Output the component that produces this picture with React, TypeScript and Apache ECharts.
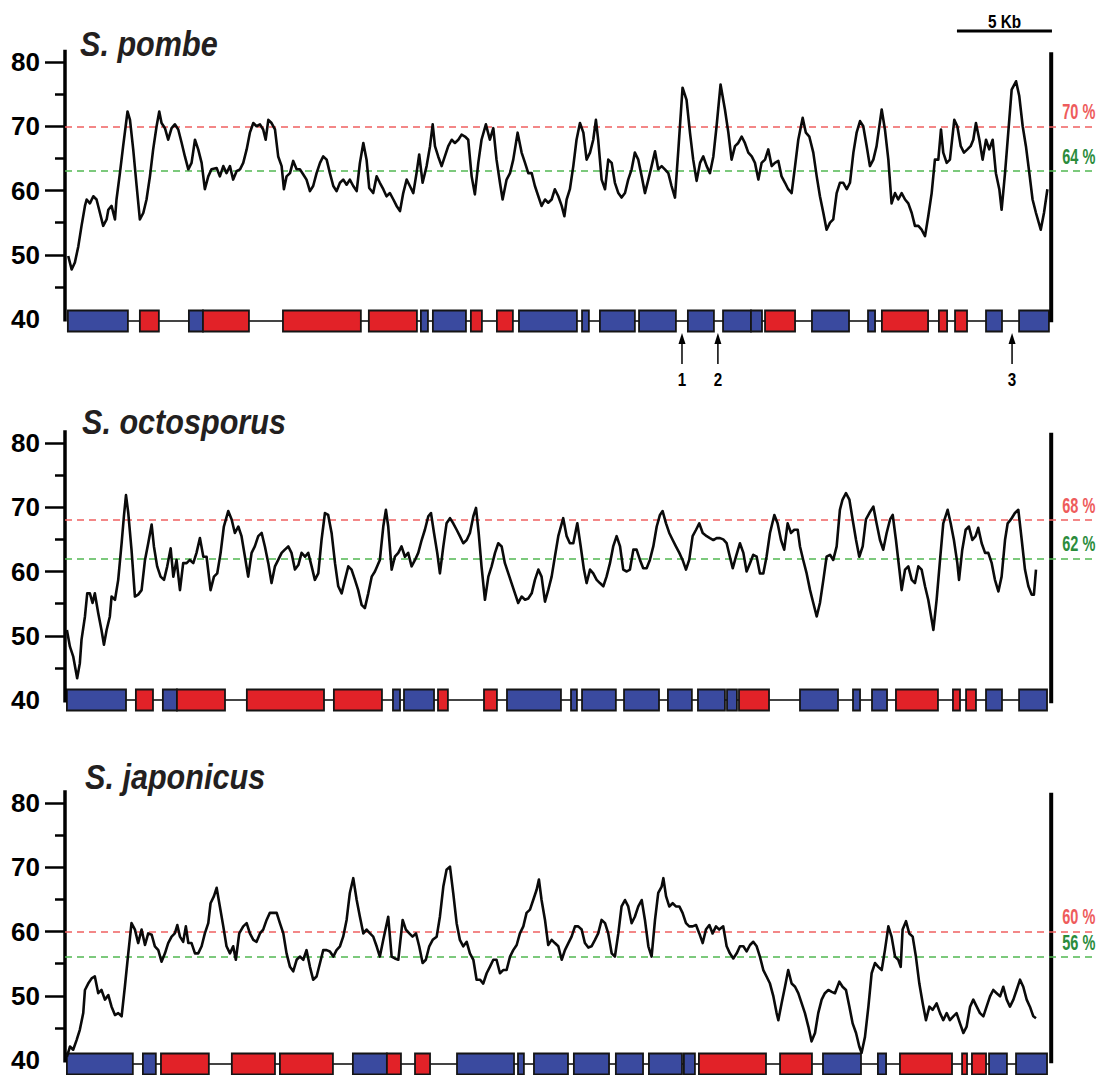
import React, { useEffect, useRef } from 'react';
import * as echarts from 'echarts';

// GC content (%) along the locus: [position in kb, GC %]
const pombeGC: number[][] = [
[0.07,49.8],[0.25,47.7],[0.42,48.8],[0.60,51.3],[0.77,54.5],[0.95,57.6],[1.04,58.6],[1.21,58.0],[1.39,59.1],[1.56,58.6],[1.74,56.5],[1.91,54.5],[2.09,55.5],[2.18,57.0],[2.35,57.6],[2.53,55.5],[2.61,58.6],[2.79,62.7],[2.96,66.9],[3.19,72.3],[3.32,71.0],[3.49,66.4],[3.67,60.7],[3.84,55.5],[4.02,56.5],[4.19,58.6],[4.37,62.2],[4.54,66.4],[4.72,70.0],[4.86,72.3],[4.98,70.5],[5.16,69.7],[5.33,67.9],[5.51,69.7],[5.68,70.3],[5.86,69.5],[6.04,67.4],[6.21,65.3],[6.39,63.3],[6.56,64.3],[6.74,67.9],[6.91,66.4],[7.09,64.3],[7.26,60.2],[7.44,62.2],[7.61,63.3],[7.88,63.5],[8.05,62.2],[8.23,63.8],[8.40,62.7],[8.58,63.8],[8.75,61.7],[8.93,63.0],[9.11,63.3],[9.28,64.3],[9.46,66.4],[9.63,69.0],[9.81,70.5],[9.98,70.0],[10.16,70.3],[10.33,69.5],[10.46,67.9],[10.60,71.0],[10.77,70.5],[10.95,69.5],[11.12,65.3],[11.30,63.8],[11.42,60.2],[11.56,62.2],[11.74,62.7],[11.91,64.6],[12.09,63.3],[12.26,63.3],[12.44,62.5],[12.61,61.7],[12.79,59.9],[12.96,60.7],[13.14,62.7],[13.32,64.3],[13.49,65.3],[13.67,64.8],[13.84,62.7],[14.02,60.7],[14.19,59.9],[14.37,61.2],[14.54,61.7],[14.72,60.9],[14.89,61.7],[15.07,60.7],[15.25,59.9],[15.42,64.3],[15.60,67.4],[15.77,64.8],[15.91,60.4],[16.12,59.6],[16.30,62.2],[16.47,61.2],[16.65,60.2],[16.82,59.1],[17.00,59.6],[17.18,58.6],[17.35,57.6],[17.53,56.8],[17.70,59.6],[17.88,61.7],[18.05,60.7],[18.23,59.6],[18.40,62.7],[18.54,65.6],[18.72,61.2],[18.93,63.8],[19.11,66.9],[19.25,70.3],[19.37,66.9],[19.54,65.3],[19.72,63.8],[19.89,65.3],[20.07,66.9],[20.25,67.9],[20.42,67.4],[20.60,67.9],[20.77,68.7],[20.95,68.4],[21.12,67.9],[21.30,62.2],[21.47,59.4],[21.65,64.3],[21.82,67.9],[22.05,70.3],[22.26,67.9],[22.44,69.7],[22.61,64.8],[22.79,61.2],[22.93,58.6],[23.14,61.7],[23.32,62.7],[23.49,64.8],[23.72,69.0],[23.93,65.9],[24.11,64.3],[24.28,62.7],[24.46,62.7],[24.63,60.7],[24.81,59.1],[24.98,57.6],[25.16,58.6],[25.33,58.1],[25.51,58.6],[25.68,60.2],[25.86,59.1],[26.04,57.6],[26.18,56.0],[26.30,58.6],[26.47,60.2],[26.65,63.8],[26.82,67.9],[27.00,70.5],[27.18,69.0],[27.35,64.8],[27.53,65.9],[27.70,67.9],[27.84,71.0],[27.96,67.9],[28.14,61.7],[28.32,60.2],[28.49,64.8],[28.67,64.3],[28.84,61.2],[29.02,59.6],[29.19,58.9],[29.37,59.6],[29.54,61.7],[29.72,63.3],[29.89,65.9],[30.07,64.8],[30.25,62.2],[30.42,59.6],[30.60,61.7],[30.77,63.8],[30.95,66.1],[31.12,63.3],[31.30,63.8],[31.47,63.3],[31.65,62.7],[31.82,60.7],[32.00,58.9],[32.18,66.4],[32.40,76.0],[32.61,74.1],[32.79,69.0],[32.96,64.8],[33.14,61.5],[33.32,64.3],[33.49,65.3],[33.67,63.8],[33.84,62.7],[34.02,65.3],[34.19,70.0],[34.40,76.5],[34.63,72.6],[34.81,69.0],[34.98,64.8],[35.16,66.9],[35.33,67.4],[35.51,68.4],[35.68,67.4],[35.86,65.9],[36.04,65.3],[36.21,64.3],[36.39,61.7],[36.56,64.3],[36.74,64.8],[36.91,66.4],[37.09,63.8],[37.26,64.3],[37.44,64.6],[37.61,62.2],[37.79,61.2],[37.96,60.2],[38.14,59.6],[38.32,63.8],[38.49,67.9],[38.72,71.3],[38.89,69.0],[39.07,68.4],[39.28,65.9],[39.46,62.2],[39.63,59.1],[39.81,56.5],[39.98,53.9],[40.16,55.0],[40.33,55.5],[40.51,59.6],[40.68,61.2],[40.86,61.2],[41.04,60.2],[41.21,61.2],[41.39,65.9],[41.56,69.0],[41.74,70.8],[41.91,70.0],[42.09,66.9],[42.26,63.8],[42.44,64.8],[42.61,66.9],[42.88,72.6],[43.05,69.5],[43.23,64.8],[43.40,58.0],[43.58,59.6],[43.75,58.6],[43.93,59.6],[44.11,58.6],[44.28,58.0],[44.46,56.5],[44.63,54.5],[44.81,54.5],[44.98,53.9],[45.16,52.9],[45.33,56.0],[45.51,59.6],[45.68,64.8],[45.86,64.8],[46.00,69.5],[46.12,65.9],[46.30,64.3],[46.47,64.8],[46.70,71.0],[46.86,70.0],[47.04,66.9],[47.21,65.9],[47.39,66.4],[47.56,66.9],[47.70,67.9],[47.84,70.5],[48.02,67.9],[48.19,64.8],[48.37,67.9],[48.54,66.4],[48.72,67.9],[48.89,62.7],[49.07,60.2],[49.19,57.0],[49.37,62.7],[49.54,69.0],[49.72,75.7],[49.95,77.0],[50.12,74.7],[50.30,70.0],[50.47,66.9],[50.65,62.7],[50.82,58.6],[51.00,56.5],[51.25,53.9],[51.42,56.5],[51.60,60.2]
];

const octosporusGC: number[][] = [
[0.00,50.9],[0.16,48.3],[0.33,46.8],[0.54,43.4],[0.68,45.7],[0.77,49.4],[0.95,53.0],[1.07,56.6],[1.21,56.6],[1.35,55.1],[1.47,56.6],[1.65,53.5],[1.82,50.9],[1.95,48.6],[2.09,50.9],[2.26,53.0],[2.35,56.1],[2.53,55.6],[2.70,58.7],[2.88,64.4],[3.00,68.6],[3.11,71.9],[3.23,69.1],[3.40,63.4],[3.58,56.1],[3.75,56.4],[3.93,57.1],[4.11,61.8],[4.28,64.4],[4.46,67.3],[4.58,63.9],[4.75,60.8],[4.93,59.2],[5.11,58.7],[5.28,60.8],[5.46,63.6],[5.60,59.2],[5.77,61.8],[5.95,57.1],[6.12,61.3],[6.30,61.3],[6.47,61.8],[6.65,61.3],[6.82,62.9],[7.00,65.2],[7.18,62.3],[7.35,62.3],[7.56,57.1],[7.74,59.2],[7.91,59.7],[8.09,62.9],[8.26,67.0],[8.49,69.4],[8.67,68.1],[8.84,66.0],[9.02,67.0],[9.19,65.5],[9.37,62.3],[9.54,59.2],[9.72,62.9],[9.89,63.9],[10.07,65.5],[10.25,66.0],[10.42,63.9],[10.60,61.3],[10.77,58.2],[10.95,60.8],[11.12,61.8],[11.30,62.9],[11.47,63.4],[11.65,63.9],[11.82,62.9],[12.00,60.3],[12.18,61.0],[12.35,62.9],[12.53,62.3],[12.70,62.9],[12.88,60.8],[13.05,58.7],[13.23,59.7],[13.40,64.9],[13.58,69.1],[13.75,68.8],[13.93,66.0],[14.11,61.3],[14.28,57.7],[14.46,56.6],[14.63,58.7],[14.81,60.8],[14.98,60.3],[15.16,58.7],[15.33,57.1],[15.51,54.8],[15.68,54.3],[15.86,56.6],[16.04,59.2],[16.21,60.0],[16.47,61.8],[16.65,67.0],[16.79,69.6],[16.91,67.0],[17.09,60.3],[17.26,62.3],[17.44,62.9],[17.61,63.9],[17.79,62.3],[17.96,62.9],[18.14,60.8],[18.32,61.8],[18.49,62.9],[18.67,64.9],[18.84,66.5],[19.02,68.6],[19.16,69.1],[19.32,66.0],[19.49,62.9],[19.63,59.7],[19.81,63.9],[19.98,67.5],[20.16,68.3],[20.33,67.5],[20.51,66.5],[20.68,65.5],[20.86,64.4],[21.04,64.9],[21.21,66.0],[21.39,68.6],[21.53,69.9],[21.67,66.0],[21.82,60.8],[22.00,55.6],[22.18,59.2],[22.35,60.8],[22.53,62.9],[22.70,64.4],[22.88,63.9],[23.05,61.3],[23.23,59.7],[23.40,58.2],[23.58,56.6],[23.75,55.1],[23.93,56.1],[24.11,55.6],[24.28,55.8],[24.46,56.6],[24.63,58.7],[24.81,60.3],[24.98,59.2],[25.16,55.3],[25.33,57.1],[25.51,59.2],[25.68,62.3],[25.86,65.5],[26.12,68.3],[26.30,65.5],[26.47,64.4],[26.65,64.4],[26.86,67.5],[27.04,63.9],[27.21,60.3],[27.35,58.2],[27.53,60.3],[27.70,59.7],[27.88,58.7],[28.05,58.2],[28.23,57.7],[28.40,59.2],[28.58,61.3],[28.75,63.9],[28.93,65.5],[29.11,63.9],[29.28,60.3],[29.46,60.0],[29.63,60.3],[29.81,63.4],[29.98,63.4],[30.16,61.8],[30.33,60.5],[30.51,60.5],[30.68,61.8],[30.86,63.9],[31.04,67.0],[31.21,68.8],[31.35,69.4],[31.53,67.5],[31.70,66.0],[31.88,64.9],[32.05,63.9],[32.23,62.9],[32.40,61.8],[32.58,60.3],[32.75,61.8],[32.93,65.5],[33.11,66.5],[33.28,67.5],[33.46,66.0],[33.67,65.5],[33.84,65.2],[34.02,64.9],[34.19,65.2],[34.37,65.2],[34.54,65.0],[34.72,64.4],[34.89,62.3],[35.04,60.5],[35.21,62.3],[35.42,64.4],[35.60,62.9],[35.77,60.0],[35.95,61.3],[36.12,62.6],[36.30,62.3],[36.47,59.7],[36.65,59.7],[36.82,62.3],[37.00,66.0],[37.23,68.8],[37.40,67.5],[37.58,64.9],[37.75,63.4],[37.93,67.5],[38.11,66.0],[38.28,66.5],[38.46,66.5],[38.58,63.9],[38.75,61.8],[38.93,59.7],[39.11,57.1],[39.28,55.1],[39.46,53.0],[39.63,55.1],[39.81,58.7],[39.98,62.3],[40.16,62.6],[40.33,61.8],[40.51,63.9],[40.68,69.6],[40.82,71.2],[41.00,72.2],[41.18,71.2],[41.35,68.1],[41.53,64.9],[41.70,62.3],[41.88,63.9],[42.05,68.1],[42.23,69.1],[42.44,70.1],[42.61,67.5],[42.79,64.9],[42.96,63.4],[43.14,66.0],[43.32,68.1],[43.46,68.8],[43.63,64.9],[43.81,60.3],[43.93,57.1],[44.11,60.3],[44.28,60.8],[44.46,58.7],[44.63,58.2],[44.81,60.8],[44.98,60.3],[45.16,57.7],[45.33,55.6],[45.51,52.5],[45.60,50.9],[45.77,55.6],[45.95,61.8],[46.12,67.5],[46.35,69.6],[46.51,67.5],[46.68,64.9],[46.86,61.3],[46.95,58.7],[47.12,63.4],[47.30,66.5],[47.47,67.0],[47.65,64.9],[47.82,65.5],[47.96,66.8],[48.14,64.4],[48.32,62.9],[48.49,62.9],[48.67,61.3],[48.84,58.7],[49.02,56.9],[49.19,59.2],[49.37,64.9],[49.51,67.5],[49.68,68.1],[49.89,69.1],[50.07,69.6],[50.25,64.9],[50.42,60.3],[50.60,57.7],[50.77,56.4],[50.89,56.4],[51.00,60.3]
];

const japonicusGC: number[][] = [
[0.00,40.5],[0.16,42.1],[0.33,41.6],[0.51,43.1],[0.68,44.7],[0.86,47.3],[0.95,50.9],[1.12,51.9],[1.30,52.7],[1.47,53.0],[1.65,50.4],[1.82,50.9],[2.00,49.4],[2.18,50.1],[2.35,48.3],[2.53,47.0],[2.70,47.3],[2.88,46.8],[3.05,51.4],[3.23,56.6],[3.40,61.3],[3.58,60.3],[3.75,58.2],[3.93,60.3],[4.11,57.9],[4.28,59.7],[4.46,59.5],[4.63,57.7],[4.81,57.1],[4.98,55.3],[5.16,56.6],[5.33,58.2],[5.51,59.2],[5.68,59.7],[5.81,61.0],[5.95,59.2],[6.12,58.4],[6.26,60.8],[6.39,58.2],[6.56,58.2],[6.74,56.6],[6.91,56.6],[7.09,57.7],[7.26,59.7],[7.44,61.3],[7.56,64.4],[7.74,65.5],[7.88,66.8],[8.05,63.9],[8.23,60.8],[8.40,57.7],[8.58,56.6],[8.75,57.7],[8.89,55.6],[9.07,59.7],[9.28,60.8],[9.46,61.3],[9.63,59.7],[9.81,58.7],[9.98,58.4],[10.16,59.7],[10.33,60.3],[10.51,61.8],[10.68,62.9],[10.86,62.9],[11.04,62.9],[11.21,61.3],[11.39,59.7],[11.56,56.6],[11.74,54.5],[11.91,53.8],[12.09,55.6],[12.26,56.1],[12.44,55.6],[12.61,57.1],[12.79,54.5],[12.96,52.5],[13.14,53.0],[13.32,55.1],[13.49,57.1],[13.67,57.1],[13.84,56.9],[14.02,56.1],[14.19,57.1],[14.37,57.7],[14.54,59.2],[14.72,61.8],[14.89,66.0],[15.07,68.3],[15.25,64.9],[15.42,62.3],[15.60,59.7],[15.77,60.3],[15.95,59.7],[16.12,59.2],[16.30,57.7],[16.47,56.1],[16.65,58.7],[16.91,62.3],[17.09,56.1],[17.26,55.8],[17.44,55.6],[17.67,61.8],[17.84,60.3],[18.02,59.7],[18.19,59.2],[18.37,59.7],[18.54,57.7],[18.72,55.1],[18.89,55.6],[19.07,57.7],[19.25,58.7],[19.46,59.2],[19.63,62.3],[19.81,67.0],[19.98,69.6],[20.16,70.1],[20.33,66.0],[20.51,61.3],[20.68,58.7],[20.86,57.7],[21.04,58.4],[21.21,56.6],[21.39,55.6],[21.56,52.5],[21.74,52.5],[21.91,51.9],[22.09,53.5],[22.26,54.5],[22.44,55.6],[22.61,55.6],[22.79,53.5],[22.96,54.0],[23.14,54.0],[23.32,56.1],[23.49,57.1],[23.67,57.9],[23.84,59.7],[24.02,60.8],[24.19,62.9],[24.37,63.4],[24.54,64.9],[24.72,66.5],[24.84,68.1],[24.98,64.9],[25.16,61.8],[25.33,57.9],[25.51,58.7],[25.68,58.2],[25.86,57.7],[26.04,55.6],[26.21,57.1],[26.39,58.2],[26.56,59.2],[26.74,60.8],[26.91,60.8],[27.09,60.3],[27.26,58.2],[27.44,57.5],[27.61,57.7],[27.79,58.7],[27.96,59.7],[28.14,61.8],[28.32,61.3],[28.49,59.7],[28.67,56.6],[28.84,56.1],[29.02,59.7],[29.19,63.9],[29.37,64.9],[29.54,63.9],[29.72,61.3],[29.89,62.3],[30.07,63.9],[30.25,64.9],[30.42,61.8],[30.60,57.7],[30.77,56.1],[30.95,61.8],[31.12,66.0],[31.30,67.0],[31.39,68.3],[31.53,65.5],[31.70,63.9],[31.88,64.4],[32.05,63.9],[32.23,63.9],[32.40,62.9],[32.58,61.3],[32.75,60.8],[32.93,60.8],[33.11,61.0],[33.28,59.7],[33.46,58.2],[33.63,60.3],[33.81,61.0],[33.98,59.7],[34.16,60.8],[34.33,60.3],[34.54,60.8],[34.72,57.7],[34.89,56.6],[35.07,55.8],[35.25,56.6],[35.42,57.7],[35.60,57.7],[35.77,56.9],[35.95,57.9],[36.12,58.4],[36.30,57.7],[36.47,56.1],[36.65,54.0],[36.82,53.0],[37.00,51.9],[37.18,49.9],[37.35,47.3],[37.44,46.2],[37.61,48.8],[37.79,51.4],[37.96,54.0],[38.14,51.9],[38.32,51.4],[38.49,50.4],[38.67,48.8],[38.84,47.3],[39.02,45.2],[39.19,42.9],[39.37,44.2],[39.54,47.3],[39.72,49.4],[39.89,50.4],[40.07,50.9],[40.25,50.6],[40.42,50.4],[40.65,52.2],[40.82,51.4],[41.00,50.9],[41.18,48.3],[41.35,45.7],[41.53,44.2],[41.70,42.1],[41.82,41.1],[42.00,43.6],[42.18,48.3],[42.35,53.5],[42.53,55.1],[42.70,54.5],[42.88,54.0],[43.05,57.1],[43.23,60.8],[43.40,59.2],[43.58,56.1],[43.75,55.6],[43.88,54.5],[43.98,60.3],[44.16,61.6],[44.33,59.7],[44.51,59.2],[44.68,56.1],[44.86,51.9],[45.04,48.8],[45.21,46.2],[45.39,48.3],[45.56,47.8],[45.77,48.8],[45.95,47.3],[46.12,46.2],[46.30,47.3],[46.47,46.2],[46.65,46.8],[46.82,47.3],[47.00,45.7],[47.18,44.2],[47.35,45.2],[47.53,48.3],[47.70,49.4],[47.88,48.3],[48.05,47.3],[48.23,46.8],[48.40,48.3],[48.58,49.9],[48.75,50.9],[48.93,50.4],[49.11,49.9],[49.28,51.4],[49.46,49.4],[49.63,48.3],[49.81,49.4],[49.98,50.9],[50.16,52.5],[50.33,51.4],[50.51,49.4],[50.68,48.3],[50.86,46.8],[51.00,46.5]
];

// Genes: [start kb, end kb, kind] (kind 0 = blue, 1 = red)
const pombeGenes: number[][] = [
[0.05,3.21,0],[3.84,4.84,1],[6.42,7.16,0],[7.16,9.58,1],[11.37,15.47,1],[15.89,18.42,1],[18.63,19.0,0],[19.26,21.0,0],[21.26,21.84,1],[22.63,23.47,1],[23.79,26.84,0],[27.11,27.47,0],[28.05,29.89,0],[30.11,32.05,0],[32.68,34.05,0],[34.53,36.0,0],[36.0,36.58,0],[36.74,38.32,1],[39.21,41.16,0],[42.16,42.53,0],[42.89,45.32,1],[45.89,46.32,1],[46.74,47.37,1],[48.37,49.21,0],[50.11,51.68,0]
];
const octosporusGenes: number[][] = [
[0,3.11,0],[3.63,4.53,1],[5.05,5.79,0],[5.79,8.32,1],[9.47,13.53,1],[14.05,16.58,1],[17.16,17.53,0],[17.74,19.32,0],[19.53,20.05,1],[21.95,22.63,1],[23.16,26.0,0],[26.53,26.84,0],[27.11,28.89,0],[29.32,31.16,0],[31.63,32.89,0],[33.21,34.63,0],[34.74,35.26,0],[35.37,36.95,1],[38.58,40.58,0],[41.37,41.74,0],[42.37,43.16,0],[43.63,45.84,1],[46.63,47.0,1],[47.32,47.84,1],[48.37,49.21,0],[50.11,51.58,0]
];
const japonicusGenes: number[][] = [
[0,3.47,0],[4.0,4.68,0],[4.95,7.47,1],[8.68,10.95,1],[11.21,14.0,1],[15.05,16.84,0],[16.84,17.58,1],[18.32,19.11,1],[20.53,23.53,0],[23.74,24.05,0],[24.58,26.37,0],[26.68,28.53,0],[28.89,30.32,0],[30.63,32.37,0],[32.47,33.05,0],[33.26,36.79,1],[37.53,39.21,1],[39.79,41.79,0],[42.68,43.11,0],[43.84,46.58,1],[47.11,47.37,1],[47.63,48.37,1],[48.53,49.47,0],[49.95,51.58,0]
];

const speciesNames = ['S. pombe', 'S. octosporus', 'S. japonicus'];
const upperLevels = [70, 68, 60];
const upperLabels = ['70 %', '68 %', '60 %'];
const lowerLevels = [63, 62, 56];
const lowerLabels = ['64 %', '62 %', '56 %'];
const yAxisTicks = [40, 80, 10]; // min, max, step
const arrowMarks: number[][] = [[32.37, 1], [34.26, 2], [49.74, 3]];
const scaleBar: number[][] = [[46.84, 51.84]];
const scaleBarLabel = '5 Kb';

// layout / style
const SANS = "'Liberation Sans', Arial, Helvetica, sans-serif";
const BLUE = '#3a4a9f';
const RED = '#e22228';
const UPPER_COLOR = '#ee5c5c';
const LOWER_COLOR = '#2b8c3c';
const X_MIN = -0.1;
const X_MAX = 54;
const GRID_LEFT = 65;
const GRID_WIDTH = 1028;
const GRID_TOPS = [62, 443, 803];
const GRID_HEIGHT = 257;
const BOX_SHIFT = [2, 0, 4];
const TITLE_POS = [[80, 44], [82, 422], [85, 777]];
const FRAME_TOP = [81.9, 82, 82];
const RIGHT_FRAME_KB = 51.8;
const LABEL_KB = 53.25;

export default function App() {
  const ref = useRef<HTMLDivElement>(null);
  useEffect(() => {
    const chart = echarts.init(ref.current!, null, { renderer: 'svg' });
    const gcSets = [pombeGC, octosporusGC, japonicusGC];
    const geneSets = [pombeGenes, octosporusGenes, japonicusGenes];

    const grids = GRID_TOPS.map((t) => ({ left: GRID_LEFT, top: t, width: GRID_WIDTH, height: GRID_HEIGHT }));
    const xAxes = GRID_TOPS.map((_, i) => ({ type: 'value', gridIndex: i, min: X_MIN, max: X_MAX, show: false }));
    const yAxes = GRID_TOPS.map((_, i) => ({
      type: 'value', gridIndex: i, min: yAxisTicks[0], max: yAxisTicks[1], interval: yAxisTicks[2],
      axisLine: { show: false, onZero: false },
      axisTick: { show: true, length: 20, customValues: [50, 60, 70, 80], lineStyle: { color: '#000', width: 2.5 } },
      minorTick: { show: true, splitNumber: 2, length: 10, lineStyle: { color: '#000', width: 2.5 } },
      splitLine: { show: false },
      minorSplitLine: { show: false },
      axisLabel: { color: '#000', fontSize: 26, fontWeight: 'bold', fontFamily: SANS, margin: 25 },
    }));

    const series: any[] = [];
    gcSets.forEach((gc, i) => {
      const genes = geneSets[i];
      const shift = BOX_SHIFT[i];
      series.push({
        type: 'custom', xAxisIndex: i, yAxisIndex: i, clip: false, z: 1, silent: true,
        data: [[genes[0][0], genes[genes.length - 1][1]]],
        renderItem: (_p: any, api: any) => {
          const a = api.coord([api.value(0), 40]);
          const b = api.coord([api.value(1), 40]);
          return { type: 'line', shape: { x1: a[0], y1: a[1] + shift, x2: b[0], y2: b[1] + shift }, style: { stroke: '#444', lineWidth: 2 } };
        },
      });
      series.push({
        type: 'custom', xAxisIndex: i, yAxisIndex: i, clip: false, z: 2, silent: true,
        data: genes,
        renderItem: (_p: any, api: any) => {
          const a = api.coord([api.value(0), 40]);
          const b = api.coord([api.value(1), 40]);
          return {
            type: 'rect',
            shape: { x: a[0], y: a[1] + shift - 10.5, width: b[0] - a[0], height: 21 },
            style: { fill: api.value(2) ? RED : BLUE, stroke: '#151515', lineWidth: 1.8 },
          };
        },
      });
      series.push({
        type: 'custom', xAxisIndex: i, yAxisIndex: i, clip: false, z: 3, silent: true,
        data: [[X_MIN, FRAME_TOP[i], RIGHT_FRAME_KB]],
        renderItem: (_p: any, api: any) => {
          const lt = api.coord([api.value(0), api.value(1)]);
          const lb = api.coord([api.value(0), 39.6]);
          const rt = api.coord([api.value(2), api.value(1) - 0.4]);
          const rb = api.coord([api.value(2), 39.5]);
          return {
            type: 'group', children: [
              { type: 'line', shape: { x1: lt[0], y1: lt[1], x2: lb[0], y2: lb[1] }, style: { stroke: '#000', lineWidth: 3.5 } },
              { type: 'line', shape: { x1: rt[0], y1: rt[1], x2: rb[0], y2: rb[1] }, style: { stroke: '#000', lineWidth: 4 } },
            ],
          };
        },
      });
      // threshold percentage labels (condensed text, right of the frame)
      series.push({
        type: 'custom', xAxisIndex: i, yAxisIndex: i, clip: false, z: 4, silent: true,
        data: [[LABEL_KB, upperLevels[i], 0], [LABEL_KB, lowerLevels[i], 1]],
        renderItem: (_p: any, api: any) => {
          const c = api.coord([api.value(0), api.value(1)]);
          const isLower = api.value(2) === 1;
          return {
            type: 'text', x: c[0], y: c[1] - 15, scaleX: 0.66,
            style: {
              text: isLower ? lowerLabels[i] : upperLabels[i],
              fill: isLower ? LOWER_COLOR : UPPER_COLOR,
              font: `bold 22px ${SANS}`, align: 'center', verticalAlign: 'middle',
            },
          };
        },
      });
      series.push({
        type: 'line', xAxisIndex: i, yAxisIndex: i, data: gc, showSymbol: false, symbol: 'none', z: 5,
        lineStyle: { color: '#0a0a0a', width: 2.6, join: 'round' },
        markLine: {
          silent: true, symbol: 'none',
          lineStyle: { type: [7, 5], width: 1.5 },
          label: { show: false },
          data: [
            { yAxis: upperLevels[i], lineStyle: { color: '#f06060' } },
            { yAxis: lowerLevels[i], lineStyle: { color: '#52b852' } },
          ],
        },
      });
    });

    series.push({
      type: 'custom', xAxisIndex: 0, yAxisIndex: 0, clip: false, z: 4, silent: true,
      data: arrowMarks,
      renderItem: (_p: any, api: any) => {
        const p = api.coord([api.value(0), 40]);
        const x = p[0];
        const y = p[1];
        return {
          type: 'group', children: [
            { type: 'line', shape: { x1: x, y1: y + 22, x2: x, y2: y + 45 }, style: { stroke: '#000', lineWidth: 1.5 } },
            { type: 'polygon', shape: { points: [[x, y + 14], [x - 3.5, y + 25], [x + 3.5, y + 25]] }, style: { fill: '#000' } },
            { type: 'text', x, y: y + 60, scaleX: 0.8, style: { text: String(api.value(1)), fill: '#000', font: `bold 19px ${SANS}`, align: 'center', verticalAlign: 'middle' } },
          ],
        };
      },
    });

    series.push({
      type: 'custom', xAxisIndex: 0, yAxisIndex: 0, clip: false, z: 4, silent: true,
      data: scaleBar,
      renderItem: (_p: any, api: any) => {
        const a = api.coord([api.value(0), 80]);
        const b = api.coord([api.value(1), 80]);
        return {
          type: 'group', children: [
            { type: 'line', shape: { x1: a[0], y1: a[1] - 31, x2: b[0], y2: b[1] - 31 }, style: { stroke: '#000', lineWidth: 3 } },
            { type: 'text', x: (a[0] + b[0]) / 2, y: a[1] - 40, scaleX: 0.85, style: { text: scaleBarLabel, fill: '#000', font: `bold 18px ${SANS}`, align: 'center', verticalAlign: 'middle' } },
          ],
        };
      },
    });

    const graphic = speciesNames.map((n, i) => ({
      type: 'text', x: TITLE_POS[i][0], y: TITLE_POS[i][1], scaleX: 0.85,
      style: { text: n, fill: '#231f20', font: `italic bold 36px ${SANS}`, verticalAlign: 'middle' },
    }));

    chart.setOption({
      animation: false,
      backgroundColor: '#fff',
      grid: grids,
      xAxis: xAxes,
      yAxis: yAxes,
      series,
      graphic,
    });
    return () => chart.dispose();
  }, []);
  return <div ref={ref} style={{ position: 'absolute', left: 0, top: 0, width: 1098, height: 1075 }} />;
}
